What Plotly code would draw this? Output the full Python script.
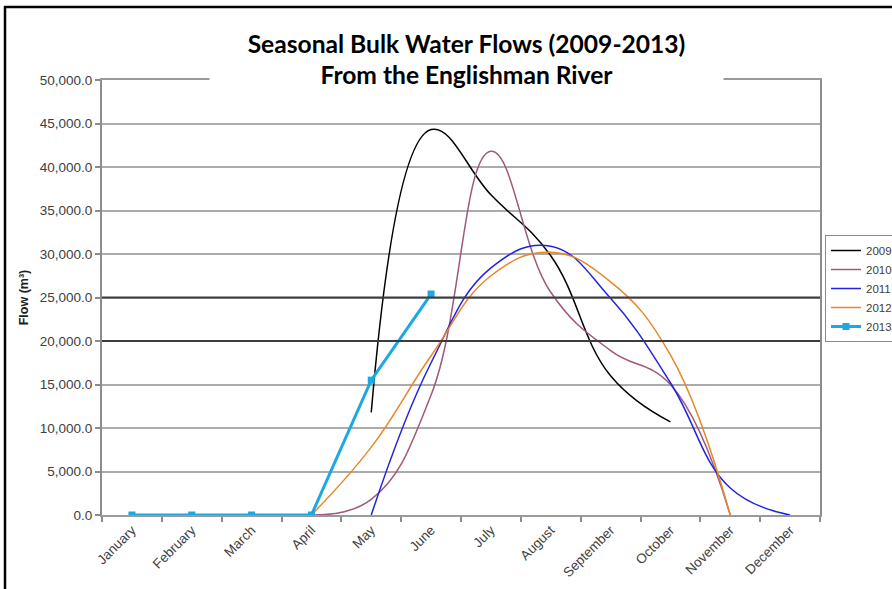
import plotly.graph_objects as go

months = ["January", "February", "March", "April", "May", "June", "July",
          "August", "September", "October", "November", "December"]

flow_2009 = [None, None, None, None, 11800, 44300, 36800, 29800, 16000, 10700, None, None]
flow_2010 = [None, None, None, 0, 1800, 13800, 41800, 25600, 18900, 15000, 0, None]
flow_2011 = [None, None, None, None, 0, 17500, 28400, 30900, 24900, 15200, 3100, 0]
flow_2012 = [None, None, None, 0, 7800, 18300, 27500, 30200, 26800, 18400, 0, None]
flow_2013 = [0, 0, 0, 0, 15500, 25400, None, None, None, None, None, None]

dark_grid_values = [20000, 25000]

series = [
    ("2009", flow_2009, "#000000", 1.5),
    ("2010", flow_2010, "#A0587E", 1.5),
    ("2011", flow_2011, "#2222E0", 1.5),
    ("2012", flow_2012, "#E8862A", 1.5),
]

fig = go.Figure()
for name, vals, color, w in series:
    fig.add_trace(go.Scatter(
        x=months, y=vals, name=name, mode="lines",
        line=dict(color=color, width=w, shape="spline", smoothing=1.2),
    ))
fig.add_trace(go.Scatter(
    x=months, y=flow_2013, name="2013", mode="lines+markers",
    line=dict(color="#1CA8E0", width=3),
    marker=dict(symbol="square", size=7, color="#1CA8E0"),
))

PL, PR, PT, PB = 102, 820, 80, 515
W, H = 892, 589
def px(x):
    return (x - PL) / (PR - PL)
def py(y):
    return (PB - y) / (PB - PT)

shapes = []
for gv in dark_grid_values:
    shapes.append(dict(type="line", xref="x domain", yref="y", x0=0, x1=1, y0=gv, y1=gv,
                       line=dict(color="#3C3C3C", width=1.8), layer="above"))
# outer chart border
shapes.append(dict(type="line", xref="paper", yref="paper", x0=px(5), x1=px(5),
                   y0=py(6), y1=py(620), line=dict(color="#000000", width=2.5)))
shapes.append(dict(type="line", xref="paper", yref="paper", x0=px(4), x1=px(920),
                   y0=py(7), y1=py(7), line=dict(color="#000000", width=2.5)))

fig.update_layout(
    width=W, height=H,
    margin=dict(l=PL, r=W - PR, t=PT, b=H - PB, autoexpand=False),
    paper_bgcolor="white", plot_bgcolor="white",
    font=dict(family="Arial, Liberation Sans", size=12, color="#404040"),
    showlegend=True,
    legend=dict(x=px(825), y=py(235), xanchor="left", yanchor="top",
                bgcolor="white", bordercolor="#8C8C8C", borderwidth=1,
                font=dict(family="Arial, Liberation Sans", size=11.5, color="#404040"),
                itemwidth=30, tracegroupgap=0),
    shapes=shapes,
    annotations=[dict(
        text="<b>Seasonal Bulk Water Flows (2009-2013)</b><br><b>From the Englishman River</b>",
        xref="paper", yref="paper", x=px(466.5), y=py(59), xanchor="center", yanchor="middle",
        showarrow=False, align="center", width=513, height=58, valign="middle",
        bgcolor="white", borderpad=0,
        font=dict(family="Lato", size=24.6, color="#000000"),
    )],
)

fig.update_xaxes(
    type="category", range=[-0.5, 11.5],
    showline=True, linecolor="#9A9A9A", linewidth=2, mirror=True,
    ticks="outside", tickson="boundaries", ticklen=5, tickcolor="#8C8C8C", tickwidth=1.5,
    tickangle=-45, showgrid=False,
    tickfont=dict(family="Arial, Liberation Sans", size=13.5, color="#404040"),
)
fig.update_yaxes(
    range=[0, 50000], dtick=5000, tickformat=",.1f",
    showline=True, linecolor="#8C8C8C", linewidth=2, mirror=True,
    ticks="outside", ticklen=5, tickcolor="#8C8C8C", tickwidth=1.5,
    showgrid=True, gridcolor="#ABABAB", gridwidth=2,
    zeroline=False,
    tickfont=dict(family="Arial, Liberation Sans", size=13.5, color="#404040"),
    title=dict(text="<b>Flow (m³)</b>", font=dict(family="Arial, Liberation Sans", size=12.5, color="#202020"), standoff=8),
)

fig.write_html("out.html", config={"displayModeBar": False},
               post_script="document.body.style.margin='0px';")
